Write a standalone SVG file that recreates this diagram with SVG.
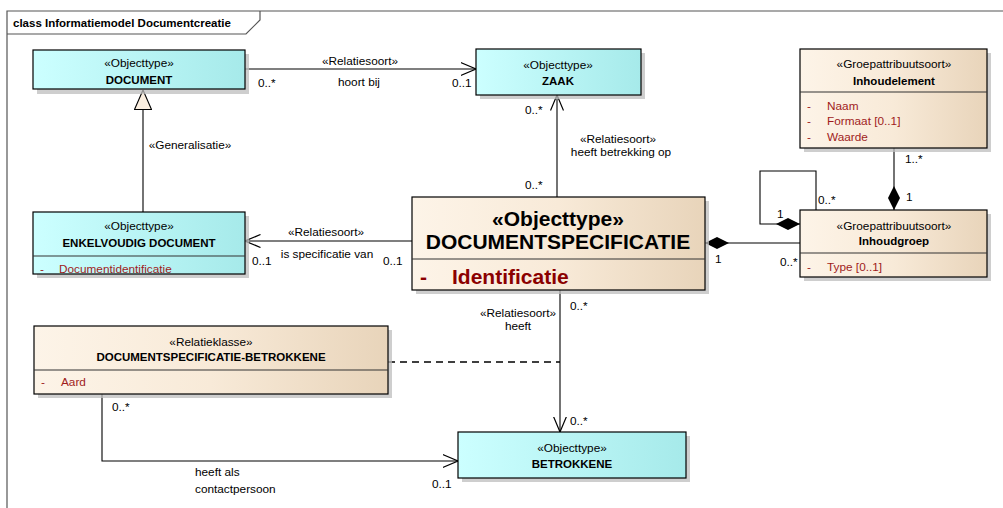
<svg xmlns="http://www.w3.org/2000/svg" width="1003" height="508" viewBox="0 0 1003 508">
<style>
text{font-family:"Liberation Sans",Arial,sans-serif;font-size:11.8px;fill:#000}
.c{text-anchor:middle}
.b{font-weight:bold;font-size:11.5px}
.attr{fill:#a01c1c}
.box{stroke:#000;stroke-width:1.2}
.cy{fill:url(#gc)}
.be{fill:url(#gb)}
.sh{fill:#bdbdbd;opacity:.75}
.div{stroke:#333;stroke-width:1.2}
.ln{fill:none;stroke:#000;stroke-width:1.1}
.frame{fill:none;stroke:#555;stroke-width:1.2}
</style>
<defs>
<linearGradient id="gc" x1="0" y1="0" x2="1" y2="0"><stop offset="0" stop-color="#ccffff"/><stop offset="1" stop-color="#a6eaea"/></linearGradient>
<linearGradient id="gb" x1="0" y1="0" x2="1" y2="0"><stop offset="0" stop-color="#fdf4e8"/><stop offset="0.5" stop-color="#f8ead8"/><stop offset="1" stop-color="#e8d4ba"/></linearGradient>
<marker id="open" viewBox="0 0 16 14" refX="15.5" refY="7" markerWidth="16" markerHeight="14" markerUnits="userSpaceOnUse" orient="auto"><path d="M0,0.5 L15.5,7 L0,13.5" fill="none" stroke="#000" stroke-width="1.2"/></marker>
<marker id="dia" viewBox="0 0 26 14" refX="25" refY="7" markerWidth="26" markerHeight="14" markerUnits="userSpaceOnUse" orient="auto"><path d="M1,7 L13,1 L25,7 L13,13 Z" fill="#000"/></marker>
<marker id="tri" viewBox="0 0 20 18" refX="19.5" refY="9" markerWidth="20" markerHeight="18" markerUnits="userSpaceOnUse" orient="auto"><path d="M0,0.5 L19.5,9 L0,17.5 Z" fill="#fbefe0" stroke="#000" stroke-width="1.1"/></marker>
</defs>
<rect width="1003" height="508" fill="#fff"/>
<g id="frame">
<path class="frame" d="M7,508 V11 H1003"/>
<path class="frame" d="M7,34 H246 L260,20 V11"/>
<text x="13" y="27" class="b" style="font-size:11.5px">class Informatiemodel Documentcreatie</text>
</g>
<g id="connectors">
<path class="ln" d="M245,69 H476" marker-end="url(#open)"/>
<path class="ln" d="M557,197 V95" marker-end="url(#open)"/>
<path class="ln" d="M143,212 V90" marker-end="url(#tri)"/>
<path class="ln" d="M412,241 H245" marker-end="url(#open)"/>
<path class="ln" d="M800,243 H705" marker-end="url(#dia)"/>
<path class="ln" d="M894,148 V210" marker-end="url(#dia)"/>
<path class="ln" d="M816,210 V171 H760 V224 H800" marker-end="url(#dia)"/>
<path class="ln" d="M560,290 V432" marker-end="url(#open)"/>
<path class="ln" d="M388,362 H560" stroke-dasharray="7,5" style="stroke-width:1.3"/>
<path class="ln" d="M102,394 V461 H458" marker-end="url(#open)"/>
<text x="360" y="65" class="c">«Relatiesoort»</text>
<text x="359" y="86" class="c">hoort bij</text>
<text x="258" y="87">0..*</text>
<text x="452" y="87">0..1</text>
<text x="525" y="114">0..*</text>
<text x="618" y="143" class="c">«Relatiesoort»</text>
<text x="621" y="156" class="c">heeft betrekking op</text>
<text x="525" y="189">0..*</text>
<text x="190" y="149" class="c">«Generalisatie»</text>
<text x="326" y="236" class="c">«Relatiesoort»</text>
<text x="327" y="258" class="c">is specificatie van</text>
<text x="252" y="265">0..1</text>
<text x="383" y="265">0..1</text>
<text x="715" y="263">1</text>
<text x="780" y="266">0..*</text>
<text x="905" y="163">1..*</text>
<text x="906" y="201">1</text>
<text x="818" y="204">0..*</text>
<text x="777" y="218">1</text>
<text x="570" y="310">0..*</text>
<text x="518" y="317" class="c">«Relatiesoort»</text>
<text x="518" y="330" class="c">heeft</text>
<text x="570" y="425">0..*</text>
<text x="112" y="411">0..*</text>
<text x="195" y="476">heeft als</text>
<text x="195" y="493">contactpersoon</text>
<text x="432" y="488">0..1</text>
</g>
<g id="document">
<rect class="sh" x="37" y="54" width="212" height="40"/>
<rect class="box cy" x="33" y="50" width="212" height="39"/>
<text x="139" y="67" class="c">«Objecttype»</text>
<text x="139" y="84" class="c b">DOCUMENT</text>
</g>
<g id="zaak">
<rect class="sh" x="480" y="53" width="165" height="46"/>
<rect class="box cy" x="476" y="49" width="165" height="46"/>
<text x="558" y="69" class="c">«Objecttype»</text>
<text x="558" y="85" class="c b">ZAAK</text>
</g>
<g id="enkelvoudig-document">
<rect class="sh" x="37" y="216" width="212" height="62"/>
<rect class="box cy" x="33" y="212" width="212" height="62"/>
<line class="div" x1="33" y1="256" x2="245" y2="256"/>
<text x="139" y="230" class="c">«Objecttype»</text>
<text x="139" y="247" class="c b">ENKELVOUDIG DOCUMENT</text>
<text x="40" y="273" class="attr">-</text>
<text x="59" y="273" class="attr">Documentidentificatie</text>
</g>
<g id="documentspecificatie">
<rect class="sh" x="416" y="201" width="293" height="93"/>
<rect class="box be" x="412" y="197" width="293" height="93"/>
<line class="div" x1="412" y1="259" x2="705" y2="259"/>
<text x="558" y="226" class="c b" style="font-size:21px">«Objecttype»</text>
<text x="558" y="249" class="c b" style="font-size:21px">DOCUMENTSPECIFICATIE</text>
<text x="420" y="284" class="b" style="font-size:21px;fill:#8b0000">-</text>
<text x="452" y="284" class="b" style="font-size:21px;fill:#8b0000">Identificatie</text>
</g>
<g id="inhoudelement">
<rect class="sh" x="804" y="53" width="187" height="99"/>
<rect class="box be" x="800" y="49" width="187" height="99"/>
<line class="div" x1="800" y1="92" x2="987" y2="92"/>
<text x="894" y="68" class="c">«Groepattribuutsoort»</text>
<text x="894" y="85" class="c b">Inhoudelement</text>
<text x="807" y="110" class="attr">-</text>
<text x="827" y="110" class="attr">Naam</text>
<text x="807" y="125" class="attr">-</text>
<text x="827" y="125" class="attr">Formaat [0..1]</text>
<text x="807" y="141" class="attr">-</text>
<text x="827" y="141" class="attr">Waarde</text>
</g>
<g id="inhoudgroep">
<rect class="sh" x="804" y="214" width="187" height="67"/>
<rect class="box be" x="800" y="210" width="187" height="67"/>
<line class="div" x1="800" y1="253" x2="987" y2="253"/>
<text x="894" y="230" class="c">«Groepattribuutsoort»</text>
<text x="894" y="245" class="c b">Inhoudgroep</text>
<text x="807" y="271" class="attr">-</text>
<text x="827" y="271" class="attr">Type [0..1]</text>
</g>
<g id="documentspecificatie-betrokkene">
<rect class="sh" x="38" y="330" width="354" height="68"/>
<rect class="box be" x="34" y="326" width="354" height="68"/>
<line class="div" x1="34" y1="370" x2="388" y2="370"/>
<text x="211" y="346" class="c">«Relatieklasse»</text>
<text x="211" y="361" class="c b">DOCUMENTSPECIFICATIE-BETROKKENE</text>
<text x="41" y="386" class="attr">-</text>
<text x="61" y="386" class="attr">Aard</text>
</g>
<g id="betrokkene">
<rect class="sh" x="462" y="436" width="228" height="46"/>
<rect class="box cy" x="458" y="432" width="228" height="46"/>
<text x="572" y="452" class="c">«Objecttype»</text>
<text x="572" y="468" class="c b">BETROKKENE</text>
</g>
</svg>
